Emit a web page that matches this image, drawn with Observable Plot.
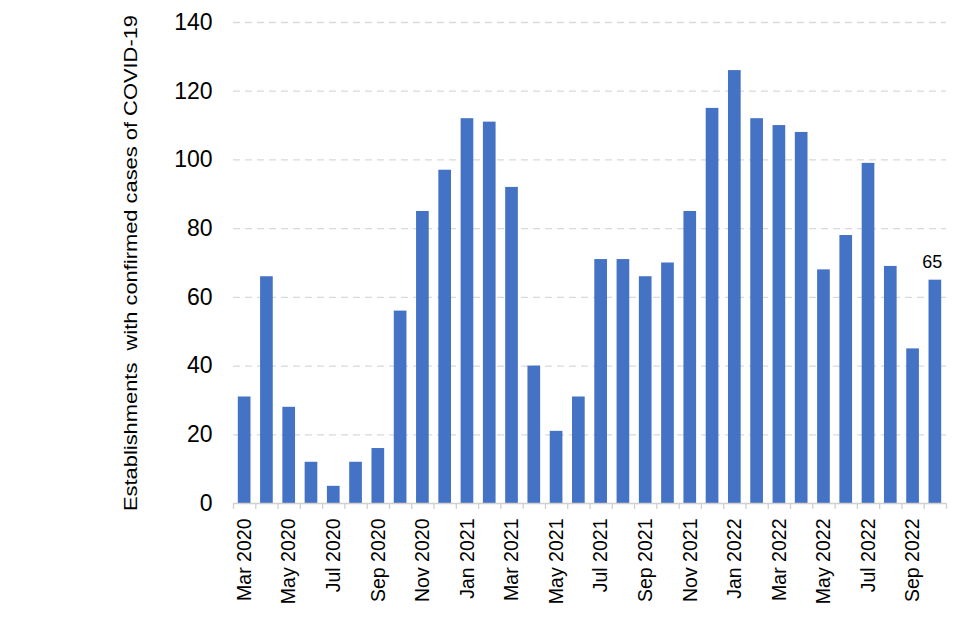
<!DOCTYPE html>
<html>
<head>
<meta charset="utf-8">
<script src="https://cdn.jsdelivr.net/npm/d3@7"></script>
<script src="https://cdn.jsdelivr.net/npm/@observablehq/plot@0.6"></script>
<style>
  html, body { margin: 0; padding: 0; background: #fff; }
  #chart svg { display: block; }
</style>
</head>
<body>
<div id="chart"></div>
<script>
const months = [
  "Mar 2020","Apr 2020","May 2020","Jun 2020","Jul 2020","Aug 2020","Sep 2020","Oct 2020","Nov 2020","Dec 2020",
  "Jan 2021","Feb 2021","Mar 2021","Apr 2021","May 2021","Jun 2021","Jul 2021","Aug 2021","Sep 2021","Oct 2021","Nov 2021","Dec 2021",
  "Jan 2022","Feb 2022","Mar 2022","Apr 2022","May 2022","Jun 2022","Jul 2022","Aug 2022","Sep 2022","Oct 2022"
];
const establishments = [
  31, 66, 28, 12, 5, 12, 16, 56, 85, 97,
  112, 111, 92, 40, 21, 31, 71, 71, 66, 70, 85, 115,
  126, 112, 110, 108, 68, 78, 99, 69, 45, 65
];
const yTicks = [0, 20, 40, 60, 80, 100, 120, 140];
const labelledMonth = "Oct 2022";
const yTitle = "Establishments  with confirmed cases of COVID-19";

const data = months.map((m, i) => ({month: m, value: establishments[i]}));
const shownTicks = months.filter((m, i) => i % 2 === 0);

const W = 960, H = 640;
const mL = 233, mR = 14, mT = 22, mB = 137;
const bw = (W - mL - mR) / months.length;
const axisGrey = "#d0d0d0";

const chart = Plot.plot({
  width: W,
  height: H,
  marginLeft: mL,
  marginRight: mR,
  marginTop: mT,
  marginBottom: mB,
  style: {fontFamily: "Arial, 'Liberation Sans', sans-serif", background: "#fff", color: "#000"},
  x: {domain: months, padding: 0, round: false},
  y: {domain: [0, 140], ticks: yTicks},
  marks: [
    Plot.gridY(yTicks.filter(d => d > 0), {stroke: "#d9d9d9", strokeOpacity: 1, strokeWidth: 1.3, strokeDasharray: "7,5"}),
    Plot.barY(data, {x: "month", y: "value", fill: "#4472c4", insetLeft: 4.8, insetRight: 4.8}),
    Plot.ruleY([0], {stroke: axisGrey, strokeWidth: 1.3}),
    Plot.ruleX(months, {x: d => d, y1: 0, y2: 0, dx: -bw / 2, stroke: axisGrey, strokeWidth: 1.3, insetBottom: -6}),
    Plot.ruleX([months[months.length - 1]], {x: d => d, y1: 0, y2: 0, dx: bw / 2, stroke: axisGrey, strokeWidth: 1.3, insetBottom: -6}),
    Plot.axisX({ticks: shownTicks, tickSize: 0, tickRotate: -90, tickPadding: 15, fontSize: 19.5, label: null}),
    Plot.axisY({ticks: yTicks, tickSize: 0, tickPadding: 21, fontSize: 23, label: null}),
    Plot.text([yTitle], {frameAnchor: "left", dx: -102, dy: 0, rotate: -90, fontSize: 18, textAnchor: "middle", lineAnchor: "middle",
      render: (index, scales, values, dims, ctx, next) => {
        const g = next(index, scales, values, dims, ctx);
        g.querySelectorAll("text").forEach(t => {
          t.setAttribute("textLength", 496);
          t.setAttribute("lengthAdjust", "spacingAndGlyphs");
        });
        return g;
      }}),
    Plot.text(data.filter(d => d.month === labelledMonth), {x: "month", y: "value", text: d => String(d.value), dx: -3, dy: -18, fontSize: 18, fill: "#000"})
  ]
});
document.getElementById("chart").appendChild(chart);
</script>
</body>
</html>
